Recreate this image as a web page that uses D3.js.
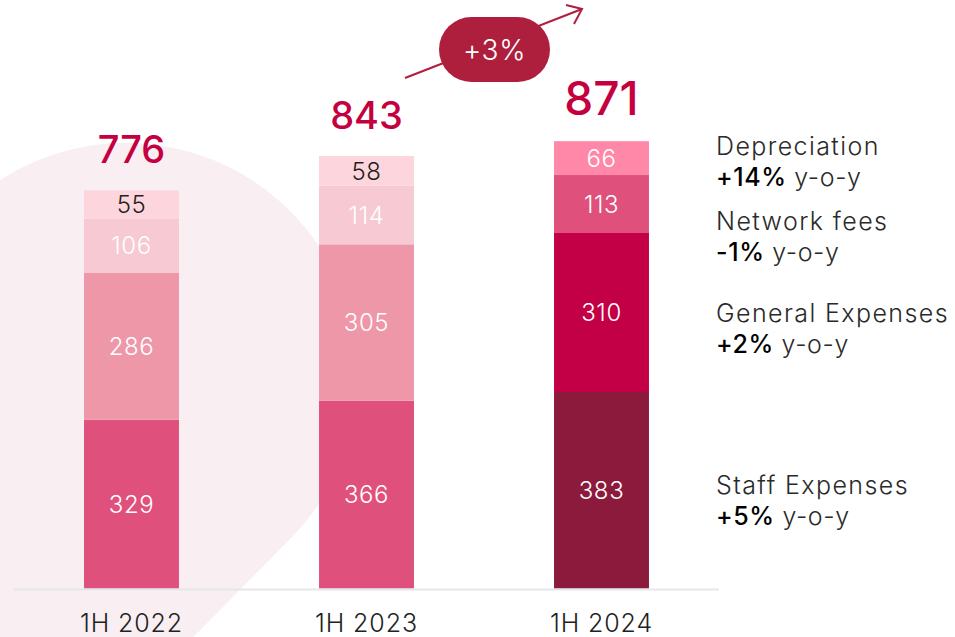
<!DOCTYPE html>
<html>
<head>
<meta charset="utf-8">
<script src="https://cdn.jsdelivr.net/npm/d3@7"></script>
<style>
  html, body { margin: 0; padding: 0; background: #ffffff; }
  svg { display: block; font-family: Inter, "Open Sans", Lato, sans-serif; }
</style>
</head>
<body>
<svg id="chart" width="955" height="637"></svg>
<script>
// ---- data ----
const categories = ["1H 2022", "1H 2023", "1H 2024"];
const staffExpenses = [329, 366, 383];
const generalExpenses = [286, 305, 310];
const networkFees = [106, 114, 113];
const depreciation = [55, 58, 66];
const totals = [776, 843, 871];
const seriesNames = ["Staff Expenses", "General Expenses", "Network fees", "Depreciation"];
const yoyChanges = ["+5%", "+2%", "-1%", "+14%"];
const growthLabel = "+3%";

// ---- styles ----
const palette = {
  "1H 2022": ["#E0507C", "#ED97A8", "#F6C9D3", "#FDD5DC"],
  "1H 2023": ["#E0507C", "#ED97A8", "#F6C9D3", "#FDD5DC"],
  "1H 2024": ["#8C1A3C", "#C30045", "#E0507C", "#FF88A9"]
};
const darkLabel = { "1H 2022": [false, false, false, true], "1H 2023": [false, false, false, true], "1H 2024": [false, false, false, false] };

const svg = d3.select("#chart");

// ---- background decorative shape ----
{
  const cx = 126, cy = 375, r = 232;
  const a = Math.atan2(0.70, 0.71);
  const p = d3.path();
  const sx = cx + r * Math.cos(a + Math.PI), sy = cy + r * Math.sin(a + Math.PI);
  const ex = cx + r * Math.cos(a), ey = cy + r * Math.sin(a);
  p.moveTo(-600, sy + 400);
  p.lineTo(sx, sy);
  p.arc(cx, cy, r, a + Math.PI - 2 * Math.PI, a, false);
  p.lineTo(ex - 0.986 * (900 - ey), 900);
  p.lineTo(-600, 900);
  p.closePath();
  svg.append("path").attr("d", p.toString()).attr("fill", "#F9EEF2");
}

// ---- scales ----
const x = d3.scaleBand().domain(categories).range([14, 719]).paddingInner(0.596).paddingOuter(0.298);
const y = d3.scaleLinear().domain([0, 1000]).range([588.5, 75.5]);

const rows = categories.map((c, i) => ({
  cat: c,
  "Staff Expenses": staffExpenses[i],
  "General Expenses": generalExpenses[i],
  "Network fees": networkFees[i],
  "Depreciation": depreciation[i]
}));
const stacked = d3.stack().keys(seriesNames)(rows);

// ---- bars ----
stacked.forEach((layer, si) => {
  const g = svg.append("g");
  g.selectAll("rect").data(layer).join("rect")
    .attr("x", d => x(d.data.cat))
    .attr("width", x.bandwidth())
    .attr("y", d => y(d[1]))
    .attr("height", d => y(d[0]) - y(d[1]))
    .attr("fill", d => palette[d.data.cat][si]);
  g.selectAll("text").data(layer).join("text")
    .attr("x", d => x(d.data.cat) + x.bandwidth() / 2)
    .attr("y", d => (y(d[0]) + y(d[1])) / 2)
    .attr("dy", "0.36em")
    .attr("text-anchor", "middle")
    .attr("font-size", 24)
    .attr("font-weight", 300)
    .attr("letter-spacing", 0.6)
    .attr("fill", d => darkLabel[d.data.cat][si] ? "#1f1f1f" : "#ffffff")
    .text(d => d.data[seriesNames[si]]);
});

// ---- axis ----
const xAxis = svg.append("g").attr("transform", "translate(0,589.5)")
  .call(d3.axisBottom(x).tickSize(0).tickPadding(0));
xAxis.select(".domain").attr("d", "M14,0H719").attr("stroke", "#E3E7EC").attr("stroke-width", 2);
xAxis.selectAll(".tick text")
  .attr("y", 42.5).attr("dy", 0)
  .attr("font-size", 25).attr("font-weight", 300)
  .attr("letter-spacing", 0.9)
  .attr("font-family", "Inter, 'Open Sans', sans-serif")
  .attr("fill", "#222");

// ---- totals ----
svg.append("g").selectAll("text").data(categories).join("text")
  .attr("x", c => x(c) + x.bandwidth() / 2)
  .attr("y", (c, i) => y(totals[i]) - 27)
  .attr("text-anchor", "middle")
  .attr("font-size", (c, i) => i === 2 ? 46 : 38)
  .attr("font-weight", 500)
  .attr("fill", "#C4003F")
  .text((c, i) => totals[i]);

// ---- growth arrow + pill ----
{
  const col = "#B01E40";
  const g = svg.append("g");
  g.append("line").attr("x1", 405).attr("y1", 78).attr("x2", 582).attr("y2", 9)
    .attr("stroke", col).attr("stroke-width", 2);
  g.append("path").attr("d", "M566,5 L582,9 L574,24").attr("fill", "none")
    .attr("stroke", col).attr("stroke-width", 2).attr("stroke-linejoin", "miter");
  g.append("rect").attr("x", 439).attr("y", 17).attr("width", 111).attr("height", 65)
    .attr("rx", 32.5).attr("fill", "#AE1F3D");
  g.append("text").attr("x", 494.5).attr("y", 49.5).attr("dy", "0.36em")
    .attr("text-anchor", "middle").attr("font-size", 28).attr("font-weight", 300)
    .attr("letter-spacing", 0.6)
    .attr("fill", "#fff").text(growthLabel);
}

// ---- right-side annotations ----
{
  const baselines = { "Depreciation": 155, "Network fees": 230, "General Expenses": 322, "Staff Expenses": 494 };
  const g = svg.append("g");
  seriesNames.forEach((s, i) => {
    g.append("text").attr("x", 716).attr("y", baselines[s])
      .attr("font-size", 25).attr("font-weight", 300).attr("letter-spacing", 1.4)
      .attr("fill", "#2a2a2a").text(s);
    const t = g.append("text").attr("x", 716).attr("y", baselines[s] + 31)
      .attr("font-size", 25).attr("letter-spacing", 0.6);
    t.append("tspan").attr("font-weight", 500).attr("fill", "#000").text(yoyChanges[i]);
    t.append("tspan").attr("font-weight", 300).attr("fill", "#2a2a2a").text(" y-o-y");
  });
}
</script>
</body>
</html>
